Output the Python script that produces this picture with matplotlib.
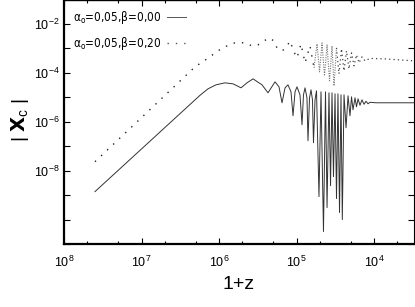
import numpy as np
import matplotlib
matplotlib.use("Agg")
import matplotlib.pyplot as plt
from matplotlib import font_manager
from matplotlib.ticker import FixedLocator, FuncFormatter, LogLocator, NullFormatter

# values, stored as log10(1+z) and log10|X_c|
logz_solid = [7.600, 6.245, 6.142, 6.039, 5.923, 5.819, 5.716, 5.639, 5.561, 5.445,
              5.368, 5.277, 5.226, 5.187, 5.148, 5.110, 5.071, 5.045, 5.019, 4.994,
              4.955, 4.929, 4.910, 4.890, 4.865, 4.852, 4.832, 4.813, 4.794, 4.781,
              4.761, 4.742, 4.710, 4.684, 4.652, 4.626, 4.606, 4.581, 4.561, 4.542,
              4.523, 4.503, 4.484, 4.465, 4.445, 4.426, 4.409, 4.387, 4.361, 4.335,
              4.310, 4.290, 4.271, 4.245, 4.226, 4.206, 4.181, 4.155, 4.129, 4.103,
              4.077, 4.052, 3.974, 3.484]
logx_solid = [-8.857, -4.918, -4.653, -4.490, -4.408, -4.449, -4.612, -4.408, -4.245, -4.490,
              -4.816, -4.367, -4.571, -5.224, -4.612, -4.490, -4.776, -5.755, -4.776, -4.571,
              -4.898, -6.122, -4.898, -4.612, -5.020, -6.776, -5.020, -4.694, -5.102, -6.857,
              -5.102, -4.735, -9.061, -4.776, -10.490, -4.776, -9.510, -4.816, -8.612, -4.816,
              -8.245, -4.857, -9.143, -4.857, -9.714, -4.898, -10.000, -4.898, -6.245, -4.939,
              -5.755, -4.980, -5.510, -5.020, -5.388, -5.061, -5.327, -5.102, -5.286, -5.163,
              -5.265, -5.204, -5.224, -5.224]

logz_dot = [7.600, 6.310, 6.194, 6.116, 6.052, 5.974, 5.897, 5.832, 5.755, 5.665,
            5.574, 5.497, 5.419, 5.355, 5.290, 5.252, 5.187, 5.135, 5.084, 5.032,
            4.994, 4.942, 4.890, 4.826, 4.774, 4.735, 4.703, 4.671, 4.639, 4.606,
            4.574, 4.542, 4.516, 4.484, 4.452, 4.419, 4.387, 4.355, 4.323, 4.290,
            4.258, 4.226, 4.194, 4.155, 4.116, 4.052, 3.858, 3.484]
logx_dot = [-7.633, -3.755, -3.510, -3.347, -3.184, -3.020, -2.898, -2.796, -2.755, -2.776,
            -2.898, -2.857, -2.694, -2.571, -2.694, -2.980, -3.102, -2.980, -2.694, -3.143,
            -3.388, -2.816, -3.592, -2.898, -3.796, -2.816, -3.959, -2.776, -4.122, -2.857,
            -4.327, -2.898, -4.531, -2.980, -4.041, -3.020, -3.918, -3.102, -3.837, -3.184,
            -3.714, -3.265, -3.592, -3.347, -3.510, -3.408, -3.429, -3.510]

labels = [r'$\alpha_o$=0,05,$\beta$=0,00', r'$\alpha_o$=0,05,$\beta$=0,20']
y_labelled = [-2, -4, -6, -8]

plt.rcParams['font.family'] = ['Liberation Sans', 'DejaVu Sans']
plt.rcParams['mathtext.default'] = 'regular'

# narrow font for the legend if one is there
leg_prop = {'family': ['Liberation Serif', 'DejaVu Sans'], 'size': 8.5}
try:
    font_manager.findfont('Liberation Sans Narrow', fallback_to_default=False)
    leg_prop = {'family': ['Liberation Sans Narrow', 'DejaVu Sans'], 'size': 10}
except Exception:
    try:
        p = font_manager.findfont(font_manager.FontProperties(family='DejaVu Sans', stretch='condensed'))
        if 'Condensed' in p:
            leg_prop = {'family': ['DejaVu Sans', 'DejaVu Sans'], 'stretch': 'condensed', 'size': 8.5}
    except Exception:
        pass

fig = plt.figure(figsize=(4.15, 3.07), dpi=100)
ax = fig.add_axes([64 / 415, 63 / 307, 350 / 415, 244 / 307])

zs = 10 ** np.array(logz_solid)
xs = 10 ** np.array(logx_solid)
zd = 10 ** np.array(logz_dot)
xd = 10 ** np.array(logx_dot)

ax.plot(zs, xs, color='#333333', lw=0.7, label=labels[0])

# dotted curve: dots get packed where it oscillates fast
a, b = 24, 33
ax.plot(zd[:a + 1], xd[:a + 1], color='#222222', lw=1.0, linestyle=(0, (1, 5)), label=labels[1])
ax.plot(zd[a:b + 1], xd[a:b + 1], color='#777777', lw=0.8, linestyle=(0, (1, 1.2)))
ax.plot(zd[b:], xd[b:], color='#444444', lw=0.9, linestyle=(0, (1, 2.5)))

ax.set_xscale('log')
ax.set_yscale('log')
ax.set_xlim(1e8, 10 ** 3.484)
ax.set_ylim(1e-11, 10 ** -1.02)

ax.xaxis.set_major_locator(FixedLocator([1e8, 1e7, 1e6, 1e5, 1e4]))
ax.xaxis.set_minor_locator(LogLocator(base=10, subs=(2, 5)))
ax.xaxis.set_minor_formatter(NullFormatter())
ax.xaxis.set_major_formatter(FuncFormatter(lambda v, p: r'$10^{%d}$' % round(np.log10(v))))

ax.yaxis.set_major_locator(FixedLocator([10.0 ** k for k in range(-11, 0)]))
ax.yaxis.set_minor_locator(FixedLocator([]))


def yfmt(v, p):
    k = round(np.log10(v))
    return r'$10^{%d}$' % k if k in y_labelled else ''


ax.yaxis.set_major_formatter(FuncFormatter(yfmt))

ax.tick_params(which='both', direction='in', top=True, right=True, labelsize=9)
ax.tick_params(which='major', length=4, width=0.8)
ax.tick_params(which='minor', length=2.5, width=0.8)
ax.tick_params(axis='x', pad=8)
ax.tick_params(axis='y', pad=3)

ax.spines['left'].set_linewidth(1.6)
ax.spines['bottom'].set_linewidth(1.6)
ax.spines['top'].set_linewidth(1.0)
ax.spines['right'].set_linewidth(0.8)

ax.set_xlabel('1+z', fontsize=14, labelpad=4)
fig.text(20 / 415, 1 - 120 / 307, r'| $\mathbf{X}_c$ |', rotation=90, fontsize=14,
         ha='center', va='center')

leg = ax.legend(loc='upper left', bbox_to_anchor=(0.0, 1.0), frameon=False,
                markerfirst=False, handlelength=1.6, labelspacing=0.75,
                prop=leg_prop, borderaxespad=0.4, handletextpad=0.5)
for h in leg.get_lines():
    h.set_color('#555555')

fig.savefig('out.png', dpi=100)
